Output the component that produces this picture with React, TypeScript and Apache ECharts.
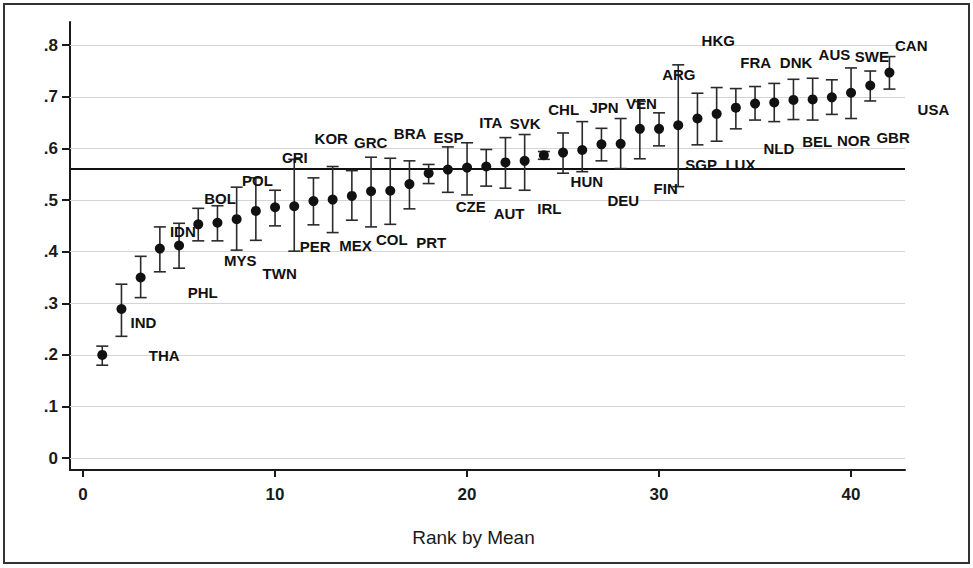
import React, { useEffect, useRef } from "react";
import * as echarts from "echarts";

// Country codes, ordered by rank (1 = lowest mean)
const countries = [
  "THA", "IND", "PHL", "IDN", "BOL", "MYS", "POL", "TWN", "CRI", "PER",
  "KOR", "MEX", "GRC", "COL", "BRA", "PRT", "ESP", "CZE", "ITA", "AUT",
  "SVK", "IRL", "CHL", "HUN", "JPN", "DEU", "VEN", "FIN", "ARG", "SGP",
  "HKG", "LUX", "FRA", "NLD", "DNK", "BEL", "AUS", "NOR", "SWE", "GBR",
  "CAN", "USA",
];
const ranks = countries.map((_, i) => i + 1);

const means = [
  0.200, 0.289, 0.350, 0.406, 0.412, 0.453, 0.456, 0.463, 0.479, 0.486,
  0.488, 0.498, 0.501, 0.508, 0.517, 0.518, 0.531, 0.552, 0.559, 0.563,
  0.565, 0.573, 0.576, 0.587, 0.592, 0.597, 0.608, 0.609, 0.638, 0.638,
  0.645, 0.658, 0.667, 0.679, 0.687, 0.689, 0.694, 0.695, 0.699, 0.708,
  0.722, 0.747,
];
const lower = [
  0.180, 0.236, 0.311, 0.361, 0.368, 0.421, 0.421, 0.403, 0.422, 0.450,
  0.401, 0.452, 0.437, 0.461, 0.448, 0.453, 0.483, 0.532, 0.515, 0.510,
  0.527, 0.523, 0.519, 0.579, 0.552, 0.555, 0.576, 0.561, 0.580, 0.605,
  0.526, 0.607, 0.614, 0.638, 0.655, 0.652, 0.656, 0.655, 0.666, 0.658,
  0.692, 0.715,
];
const upper = [
  0.217, 0.337, 0.391, 0.448, 0.455, 0.484, 0.489, 0.525, 0.543, 0.519,
  0.579, 0.543, 0.565, 0.557, 0.583, 0.581, 0.576, 0.569, 0.603, 0.611,
  0.598, 0.621, 0.627, 0.594, 0.630, 0.652, 0.639, 0.658, 0.691, 0.669,
  0.762, 0.707, 0.718, 0.716, 0.720, 0.726, 0.734, 0.736, 0.733, 0.756,
  0.750, 0.778,
];
const overallMean = 0.559;

const yTicks = [0, 0.1, 0.2, 0.3, 0.4, 0.5, 0.6, 0.7, 0.8];
const xTicks = [0, 10, 20, 30, 40];

// Label placement (pixel offsets from each marker), layout only
const labelDx = [
  62, 22, 62, 23, 41, 42, 40, 43, 39, 40,
  37, 42, 38, 40, 39, 41, 39, 42, 43, 42,
  39, 44, 39, 43, 41, 41, 40, 45, 39, 42,
  40, 43, 39, 43, 41, 43, 41, 41, 40, 42,
  41, 44,
];
const labelDy = [
  1, 14, 15, -17, -47, 36, -42, 54, -53, 39,
  -68, 44, -57, 44, -58, 52, -47, 33, -47, 46,
  -43, 46, -51, 26, -45, 50, -41, 45, -54, 36,
  -85, 46, -51, 41, -41, 39, -45, 41, -41, 45,
  -40, 37,
];

const FONT = "'Liberation Sans', Arial, sans-serif";

export default function App() {
  const ref = useRef<HTMLDivElement>(null);

  useEffect(() => {
    if (!ref.current) return;
    const chart = echarts.init(ref.current, null, { renderer: "svg" });

    const fmtY = (v: number) => (Math.abs(v) < 1e-9 ? "0" : v.toFixed(1).replace(/^0/, ""));

    const option: any = {
      animation: false,
      backgroundColor: "#ffffff",
      grid: { left: 70, right: 68, top: 22, bottom: 98 },
      graphic: [
        {
          type: "rect",
          shape: { x: 4, y: 4, width: 965, height: 559 },
          style: { fill: "none", stroke: "#333", lineWidth: 2 },
          silent: true,
        },
      ],
      xAxis: {
        type: "value",
        min: -0.68,
        max: 42.81,
        name: "Rank by Mean",
        nameLocation: "middle",
        nameGap: 58,
        nameTextStyle: {
          fontFamily: FONT,
          fontSize: 19,
          color: "#1a1a1a",
          padding: [0, 28, 0, 0],
        },
        splitLine: { show: false },
        axisLine: { show: true, onZero: false, lineStyle: { color: "#1a1a1a", width: 2 } },
        axisTick: { show: true, length: 7, customValues: xTicks, lineStyle: { color: "#1a1a1a", width: 2 } },
        axisLabel: {
          customValues: xTicks,
          margin: 16,
          fontFamily: FONT,
          fontWeight: "bold",
          fontSize: 17,
          color: "#1a1a1a",
        },
      },
      yAxis: {
        type: "value",
        min: -0.023,
        max: 0.845,
        splitLine: { show: false },
        axisLine: { show: true, onZero: false, lineStyle: { color: "#1a1a1a", width: 2 } },
        axisTick: { show: true, length: 8, customValues: yTicks, lineStyle: { color: "#1a1a1a", width: 2 } },
        axisLabel: {
          customValues: yTicks,
          formatter: fmtY,
          margin: 12,
          fontFamily: FONT,
          fontWeight: "bold",
          fontSize: 17,
          color: "#1a1a1a",
        },
      },
      series: [
        {
          type: "custom",
          name: "CI",
          silent: true,
          z: 3,
          encode: { x: 0, y: [1, 2] },
          data: ranks.map((r, i) => [r, lower[i], upper[i]]),
          renderItem: (params: any, api: any) => {
            const x = api.value(0);
            const pLo = api.coord([x, api.value(1)]);
            const pHi = api.coord([x, api.value(2)]);
            const cw = 6;
            const style = { stroke: "#2a2a2a", lineWidth: 1.6 };
            return {
              type: "group",
              children: [
                { type: "line", shape: { x1: pHi[0], y1: pHi[1], x2: pLo[0], y2: pLo[1] }, style },
                { type: "line", shape: { x1: pHi[0] - cw, y1: pHi[1], x2: pHi[0] + cw, y2: pHi[1] }, style },
                { type: "line", shape: { x1: pLo[0] - cw, y1: pLo[1], x2: pLo[0] + cw, y2: pLo[1] }, style },
              ],
            };
          },
          markLine: {
            silent: true,
            z: 1,
            symbol: "none",
            label: { show: false },
            data: [
              ...yTicks.map((v) => ({ yAxis: v, lineStyle: { color: "#d4d4d4", width: 1.2, type: "solid" } })),
              { yAxis: overallMean, lineStyle: { color: "#111", width: 2, type: "solid" } },
            ],
          },
        },
        {
          type: "scatter",
          name: "Mean",
          z: 4,
          symbol: "circle",
          symbolSize: 10,
          itemStyle: { color: "#111111", opacity: 1 },
          label: {
            show: true,
            position: "inside",
            formatter: (p: any) => countries[p.dataIndex],
            fontFamily: FONT,
            fontWeight: "bold",
            fontSize: 15,
            color: "#111111",
            opacity: 1,
            textBorderWidth: 0,
            textBorderColor: "transparent",
            align: "center",
            verticalAlign: "middle",
          },
          labelLayout: (p: any) => ({
            dx: labelDx[p.dataIndex],
            dy: labelDy[p.dataIndex],
            hideOverlap: false,
          }),
          data: ranks.map((r, i) => [r, means[i]]),
        },
      ],
    };

    chart.setOption(option);
    return () => chart.dispose();
  }, []);

  return (
    <div
      ref={ref}
      style={{ position: "fixed", left: 0, top: 0, width: 973, height: 568, background: "#fff" }}
    />
  );
}
